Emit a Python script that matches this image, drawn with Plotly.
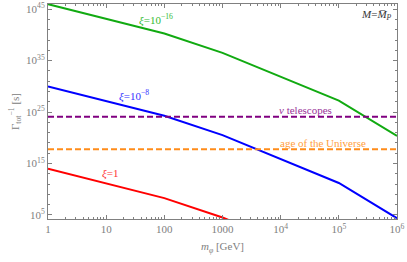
import plotly.graph_objects as go

# masses (GeV)
m_phi = [1, 10, 100, 1000, 1e4, 1e5, 1e6]
# log10 of inverse total width [s]
logG_xi16 = [45.97, 43.1, 40.26, 36.5, 31.85, 27.2, 20.34]
logG_xi8 = [29.97, 27.1, 24.26, 20.5, 15.85, 11.2, 4.34]
logG_xi1 = [13.97, 11.1, 8.26, 4.5, -0.15, -4.8, -11.66]

log_nu_tel = 24.09
log_age = 17.75

x_ticks = [1, 10, 100, 1000, 1e4, 1e5, 1e6]
x_ticktext = ["1", "10", "100", "1000", "10<sup>4</sup>", "10<sup>5</sup>", "10<sup>6</sup>"]
y_tick_exp = [5, 15, 25, 35, 45]

SERIF = "Liberation Serif"
GREY = "#808080"

fig = go.Figure()

def add_line(y_log, color, dash=None, xs=None):
    xs = xs if xs is not None else m_phi
    fig.add_trace(go.Scatter(
        x=xs, y=[10.0 ** v for v in y_log], mode="lines",
        line=dict(color=color, width=2, dash=dash), showlegend=False, hoverinfo="skip"))

add_line(logG_xi16, "#11aa11")
add_line(logG_xi8, "#0000ff")
add_line(logG_xi1, "#ff0000")
add_line([log_nu_tel, log_nu_tel], "#800080", dash="6px,3px", xs=[1, 1e6])
add_line([log_age, log_age], "#ff8c1a", dash="6px,3px", xs=[1, 1e6])

def label(x, ylog, text, color):
    fig.add_annotation(x=x, y=ylog, xref="x", yref="y", text=text, showarrow=False,
                       font=dict(family=SERIF, size=11, color=color))

label(1.85, 42.9, "<i>ξ</i>=10<sup>−16</sup>", "#33bb33")
label(1.475, 28.3, "<i>ξ</i>=10<sup>−8</sup>", "#3333ff")
label(1.06, 12.95, "<i>ξ</i>=1", "#ff3333")
label(4.43, 25.4, "<i>ν</i> telescopes", "#993399")
label(4.72, 18.92, "age of the Universe", "#ffa040")
label(5.64, 43.86, "<i>M</i>=<i>M\u0305</i><sub><i>P</i></sub>", "#333333")

x_minor = [float(k * 10 ** d) for d in range(0, 6) for k in range(2, 10)]
y_minor = [10.0 ** e for e in range(5, 46, 2) if e not in y_tick_exp]

fig.update_xaxes(
    type="log", range=[0, 6], automargin=False,
    tickvals=x_ticks, ticktext=x_ticktext,
    ticks="inside", ticklen=4, tickcolor=GREY,
    showline=True, linecolor=GREY, linewidth=1, mirror="allticks",
    showgrid=False, zeroline=False,
    tickfont=dict(family=SERIF, size=11, color=GREY),
    minor=dict(tickvals=x_minor, ticks="inside", ticklen=2, tickcolor=GREY, showgrid=False),
    title=dict(text="<i>m</i><sub><i>φ</i></sub> [GeV]", font=dict(family=SERIF, size=11, color=GREY), standoff=8),
)
fig.update_yaxes(
    type="log", range=[4.2, 46.0], automargin=False,
    tickvals=[10.0 ** e for e in y_tick_exp], ticktext=["10<sup>%d</sup>" % e for e in y_tick_exp],
    ticks="inside", ticklen=4, tickcolor=GREY,
    showline=True, linecolor=GREY, linewidth=1, mirror="allticks",
    showgrid=False, zeroline=False,
    tickfont=dict(family=SERIF, size=11, color=GREY),
    minor=dict(tickvals=y_minor, ticks="inside", ticklen=2, tickcolor=GREY, showgrid=False),
    title=dict(text="Γ<sub>tot</sub><sup>−1</sup> [s]", font=dict(family=SERIF, size=11, color=GREY), standoff=4),
)

fig.update_layout(
    width=407, height=262,
    margin=dict(l=48, r=10, t=4, b=43),
    plot_bgcolor="white", paper_bgcolor="white",
)

fig.write_html("out.html", config={"displayModeBar": False},
               post_script="document.body.style.margin='0px';")
